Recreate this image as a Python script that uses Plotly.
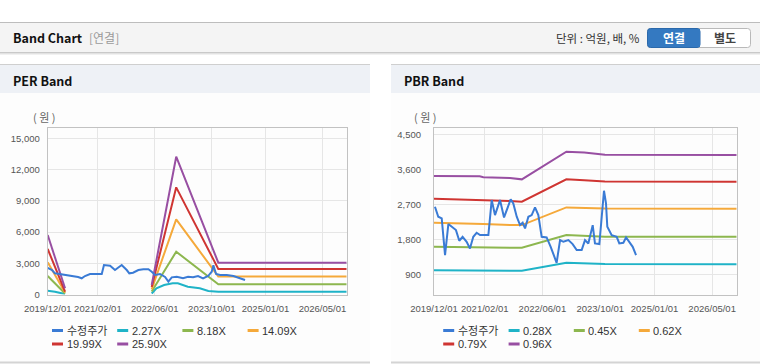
import plotly.graph_objects as go

W, H = 760, 364

# ---------------- data ----------------
x_tick_vals = ["2019-12-01", "2021-02-01", "2022-06-01", "2023-10-01", "2025-01-01", "2026-05-01"]
x_tick_text = ["2019/12/01", "2021/02/01", "2022/06/01", "2023/10/01", "2025/01/01", "2026/05/01"]
x_range = ["2019-12-01", "2026-11-24"]

per_y_ticks = [0, 3000, 6000, 9000, 12000, 15000]
pbr_y_ticks = [900, 1800, 2700, 3600, 4500]

per_names = ["수정주가", "2.27X", "8.18X", "14.09X", "19.99X", "25.90X"]
pbr_names = ["수정주가", "0.28X", "0.45X", "0.62X", "0.79X", "0.96X"]

# PER chart: adjusted price
per_price_dates = ["2019-12-01", "2020-01-07", "2020-02-01", "2020-03-15", "2020-04-27", "2020-06-08",
                   "2020-07-06", "2020-08-16", "2020-09-16", "2020-10-14", "2020-11-26", "2021-03-06",
                   "2021-03-25", "2021-05-16", "2021-06-27", "2021-08-23", "2021-10-05", "2021-10-27",
                   "2021-11-28", "2022-01-12", "2022-02-24", "2022-04-08", "2022-05-06", "2022-06-04",
                   "2022-07-16", "2022-08-28", "2022-09-25", "2022-10-24", "2022-12-06", "2023-01-28",
                   "2023-03-12", "2023-04-24", "2023-06-05", "2023-07-18", "2023-08-30", "2023-09-30",
                   "2023-10-14", "2023-11-06", "2023-12-10", "2024-02-05", "2024-04-02", "2024-05-29",
                   "2024-07-10"]
per_price = [2550, 2350, 2035, 1970, 1870, 1775,
             1800, 1680, 1555, 1775, 1970, 1970,
             2830, 2765, 2350, 2830, 2350, 2035,
             2090, 2350, 2420, 2420, 2190, 1870,
             1970, 1680, 1230, 1650, 1710, 1555,
             1710, 1650, 1775, 1555, 1775, 2190,
             2800, 1970, 1870, 1870, 1775, 1555,
             1390]

# PER bands (gap between the two segments)
per_band_dates = ["2019-12-01", "2020-04-27", "2021-06-01", "2022-05-06", "2022-12-01", "2023-11-25", "2026-11-24"]
per_band_8_18 = [1776, 100, None, 290, 4110, 979, 979]
per_band_14_09 = [3090, 190, None, 500, 7220, 1720, 1720]
per_band_19_99 = [4370, 270, None, 710, 10290, 2450, 2450]
per_band_25_90 = [5710, 595, None, 920, 13230, 3053, 3053]
per_cyan_dates = ["2019-12-01", "2020-02-01", "2020-04-27", "2021-06-01", "2022-05-06", "2022-06-15",
                  "2022-08-20", "2022-11-01", "2022-12-15", "2023-03-10", "2023-06-20", "2023-09-01",
                  "2023-11-25", "2026-11-24"]
per_band_2_27 = [365, 270, 40, None, 100, 595, 912, 1075, 1075, 750, 595, 336, 270, 270]

# PBR chart: adjusted price
pbr_price_dates = ["2019-12-09", "2020-01-06", "2020-02-04", "2020-03-03", "2020-03-31", "2020-04-28",
                   "2020-06-03", "2020-07-01", "2020-07-29", "2020-09-01", "2020-09-29", "2020-10-27",
                   "2020-11-24", "2020-12-23", "2021-03-03", "2021-03-31", "2021-04-28", "2021-06-09",
                   "2021-07-13", "2021-09-07", "2021-09-29", "2021-10-28", "2021-11-25", "2021-12-17",
                   "2022-01-06", "2022-02-03", "2022-03-03", "2022-03-31", "2022-04-28", "2022-05-26",
                   "2022-07-07", "2022-08-10", "2022-09-01", "2022-09-29", "2022-10-28", "2022-11-25",
                   "2023-01-06", "2023-02-11", "2023-03-17", "2023-04-28", "2023-05-26", "2023-06-23",
                   "2023-07-30", "2023-08-18", "2023-09-24", "2023-10-22", "2023-11-02", "2023-11-19",
                   "2023-11-30", "2024-01-06", "2024-02-17", "2024-03-10", "2024-04-13", "2024-05-06",
                   "2024-06-08", "2024-07-01", "2024-07-29"]
pbr_price = [2640, 2383, 2340, 1397, 2194, 2126,
             2040, 1766, 1868, 1740, 1568, 1868,
             1971, 1911, 1911, 2811, 2425, 2811,
             2366, 2828, 2725, 2383, 2168, 2228,
             2083, 2383, 2425, 2623, 2425, 1868,
             1851, 1611, 1423, 1200, 1783, 1740,
             1783, 1680, 1526, 1526, 1783, 1697,
             2168, 1697, 1680, 2640, 3051, 2725,
             2126, 1911, 1868, 1697, 1714, 1851,
             1697, 1611, 1397]

# PBR bands
pbr_band_dates = ["2019-12-01", "2020-12-20", "2021-01-20", "2021-09-01", "2021-12-10", "2022-12-20",
                  "2023-05-20", "2023-11-10", "2026-11-24"]
pbr_band_0_28 = [1011, 1005, 994, 994, 994, 1200, 1185, 1168, 1166]
pbr_band_0_45 = [1611, 1603, 1590, 1585, 1585, 1911, 1895, 1872, 1868]
pbr_band_0_62 = [2228, 2215, 2195, 2170, 2168, 2623, 2610, 2592, 2588]
pbr_band_0_79 = [2845, 2820, 2810, 2790, 2768, 3343, 3320, 3290, 3282]
pbr_band_0_96 = [3428, 3420, 3395, 3375, 3343, 4054, 4030, 3975, 3968]

colors = ["#3a7bd5", "#1fb3c7", "#8db74f", "#f5a93a", "#cf3532", "#984fa2"]

# ---------------- helpers ----------------
def px(x):
    return x / W

def py(y):
    return 1 - y / H

FONT = "Noto Sans CJK KR, Noto Sans, sans-serif"
LEGFONT = "Liberation Sans, Noto Sans CJK KR, sans-serif"
TICKFONT = "Liberation Sans, Arial, sans-serif"

fig = go.Figure()

per_series = [
    (per_price_dates, per_price),
    (per_cyan_dates, per_band_2_27),
    (per_band_dates, per_band_8_18),
    (per_band_dates, per_band_14_09),
    (per_band_dates, per_band_19_99),
    (per_band_dates, per_band_25_90),
]
pbr_series = [
    (pbr_price_dates, pbr_price),
    (pbr_band_dates, pbr_band_0_28),
    (pbr_band_dates, pbr_band_0_45),
    (pbr_band_dates, pbr_band_0_62),
    (pbr_band_dates, pbr_band_0_79),
    (pbr_band_dates, pbr_band_0_96),
]

order = [1, 2, 3, 4, 5, 0]
for i in order:
    d, v = per_series[i]
    fig.add_trace(go.Scatter(x=d, y=v, mode="lines", name=per_names[i],
                             line=dict(color=colors[i], width=2), xaxis="x", yaxis="y",
                             showlegend=False, hoverinfo="skip"))
for i in order:
    d, v = pbr_series[i]
    fig.add_trace(go.Scatter(x=d, y=v, mode="lines", name=pbr_names[i],
                             line=dict(color=colors[i], width=2), xaxis="x2", yaxis="y2",
                             showlegend=False, hoverinfo="skip"))

plot_top, plot_bot = 128.3, 294.5
per_l, per_r = 47.7, 346.7
pbr_l, pbr_r = 434.0, 736.7

axis_common = dict(showgrid=True, gridcolor="#e6e6e6", gridwidth=1, showline=True, mirror=True,
                   linecolor="#c2c2c2", linewidth=1, zeroline=False, ticks="", automargin=False,
                   tickfont=dict(family=TICKFONT, size=9.5, color="#555555"), fixedrange=True)

fig.update_layout(
    width=W, height=H, margin=dict(l=0, r=0, t=0, b=0, pad=0, autoexpand=False),
    paper_bgcolor="#ffffff", plot_bgcolor="rgba(0,0,0,0)",
    showlegend=False,
    xaxis=dict(domain=[px(per_l), px(per_r)], type="date", range=x_range, anchor="y",
               tickmode="array", tickvals=x_tick_vals, ticktext=x_tick_text, ticklabelstandoff=5,
               **axis_common),
    yaxis=dict(domain=[py(plot_bot), py(plot_top)], range=[0, 15960], anchor="x",
               tickmode="array", tickvals=per_y_ticks, tickformat=",d", ticklabelstandoff=5,
               **axis_common),
    xaxis2=dict(domain=[px(pbr_l), px(pbr_r)], type="date", range=x_range, anchor="y2",
                tickmode="array", tickvals=x_tick_vals, ticktext=x_tick_text, ticklabelstandoff=5,
                **axis_common),
    yaxis2=dict(domain=[py(plot_bot), py(plot_top)], range=[386, 4654], anchor="x2",
                tickmode="array", tickvals=pbr_y_ticks, tickformat=",d", ticklabelstandoff=10,
                **axis_common),
)

shapes = []
def rect(x0, y0, x1, y1, fill, line=None, lw=0, layer="below"):
    shapes.append(dict(type="rect", xref="paper", yref="paper", x0=px(x0), x1=px(x1),
                       y0=py(y1), y1=py(y0), fillcolor=fill, layer=layer,
                       line=dict(width=lw, color=line or fill)))

def hline(x0, x1, y, color, w=1, layer="below"):
    shapes.append(dict(type="line", xref="paper", yref="paper", x0=px(x0), x1=px(x1),
                       y0=py(y), y1=py(y), layer=layer, line=dict(color=color, width=w)))

# top header bar
hline(0, 760, 22.5, "#bdbdbd", 1)
rect(0, 23, 760, 52, "#f4f4f4")
rect(0, 52, 760, 53, "#c9c9c9")
rect(0, 53, 760, 54, "#e2e2e2")
rect(0, 54, 760, 55, "#f1f1f1")

# panels
for (x0, x1) in [(0, 370), (391, 760)]:
    rect(x0, 65, x1, 93, "#eef1f6")
    rect(x0, 93, x1, 362, "#fdfdfd")
    hline(x0, x1, 64.5, "#cfcfcf", 1)
    hline(x0, x1, 362.5, "#d4d4d4", 2)

# buttons
def rounded(x0, y0, x1, y1, r, fill, line, lw=1):
    path = (f"M {px(x0 + r)},{py(y0)} L {px(x1 - r)},{py(y0)} "
            f"Q {px(x1)},{py(y0)} {px(x1)},{py(y0 + r)} L {px(x1)},{py(y1 - r)} "
            f"Q {px(x1)},{py(y1)} {px(x1 - r)},{py(y1)} L {px(x0 + r)},{py(y1)} "
            f"Q {px(x0)},{py(y1)} {px(x0)},{py(y1 - r)} L {px(x0)},{py(y0 + r)} "
            f"Q {px(x0)},{py(y0)} {px(x0 + r)},{py(y0)} Z")
    shapes.append(dict(type="path", xref="paper", yref="paper", path=path, fillcolor=fill,
                       line=dict(color=line, width=lw), layer="below"))

rounded(647.5, 28.5, 750.5, 47.5, 3, "#ffffff", "#b9b9b9")
rounded(647.5, 28.5, 700, 47.5, 3, "#3479c1", "#2b69ab")
rect(695, 29, 700, 47, "#3479c1")

# legend markers
legend_cols_per = [52, 117.2, 182.4, 247.6]
legend_cols_pbr = [443.2, 508.6, 573.8, 638.8]
legend_rows = [330.5, 344]
annotations = []

def legend(cols, names):
    for k, name in enumerate(names):
        cx = cols[k % 4]
        cy = legend_rows[k // 4]
        shapes.append(dict(type="line", xref="paper", yref="paper", x0=px(cx), x1=px(cx + 11),
                           y0=py(cy), y1=py(cy), line=dict(color=colors[k], width=3), layer="above"))
        annotations.append(dict(x=px(cx + 12.5), y=py(cy), xref="paper", yref="paper", text=name,
                                showarrow=False, xanchor="left", yanchor="middle",
                                font=dict(family=LEGFONT, size=11, color="#333333")))

legend(legend_cols_per, per_names)
legend(legend_cols_pbr, pbr_names)

def text(x, y, s, size, color, xanchor="left", bold=False, family=FONT):
    annotations.append(dict(x=px(x), y=py(y), xref="paper", yref="paper",
                            text=f"<b>{s}</b>" if bold else s, showarrow=False,
                            xanchor=xanchor, yanchor="middle",
                            font=dict(family=family, size=size, color=color)))

text(11, 38, "Band Chart", 12.5, "#111111", bold=True)
text(87, 38, "[연결]", 12, "#9a9a9a")
text(642, 38, "단위 : 억원, 배, %", 11.5, "#333333", xanchor="right")
text(674, 38, "연결", 12, "#ffffff", xanchor="center", bold=True)
text(725, 38, "별도", 12, "#444444", xanchor="center", bold=True)
text(11, 80, "PER Band", 12.5, "#111111", bold=True)
text(402, 80, "PBR Band", 12.5, "#111111", bold=True)
text(43.5, 117.5, "( 원 )", 11, "#666666", xanchor="center")
text(425, 117.5, "( 원 )", 11, "#666666", xanchor="center")

fig.update_layout(shapes=shapes, annotations=annotations)
fig.write_html("out.html", config={"displayModeBar": False},
               post_script="document.body.style.margin='0';document.body.style.padding='0';")
